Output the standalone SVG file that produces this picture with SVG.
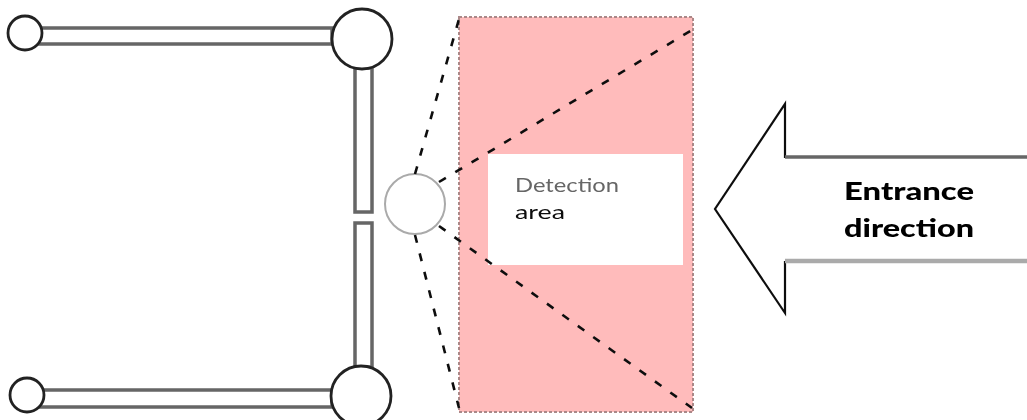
<svg xmlns="http://www.w3.org/2000/svg" width="1027" height="420" viewBox="0 0 1027 420">
<style>
.bar{fill:#fff;stroke:#666;stroke-width:3.5}
.post{fill:#fff;stroke:#222;stroke-width:2.8}
.dash{fill:none;stroke:#111;stroke-width:2.6;stroke-dasharray:8 11}
.lbl{font-family:"Lato","Liberation Sans",sans-serif}
.strong{font-size:24px;font-weight:900;fill:#000}
</style>
<defs><filter id="soft" x="-5%" y="-5%" width="110%" height="110%"><feGaussianBlur stdDeviation="0.7"/></filter></defs>
<rect width="1027" height="420" fill="#fff"/>
<g filter="url(#soft)">
<g id="detection-area">
<rect x="459" y="17" width="234" height="395" fill="#ffbbbb" stroke="#a88" stroke-width="2" stroke-dasharray="3 2"/>
<rect x="488" y="154" width="195" height="111" fill="#fff"/>
<text class="lbl" x="515" y="192" font-size="20" fill="#666" textLength="104" lengthAdjust="spacingAndGlyphs">Detection</text>
<text class="lbl" x="515" y="219" font-size="20" fill="#111" textLength="50" lengthAdjust="spacingAndGlyphs">area</text>
</g>
<g id="wall-top"><rect x="38" y="28" width="294" height="16" class="bar"/></g>
<g id="wall-bottom"><rect x="38" y="390" width="294" height="17" class="bar"/></g>
<g id="wall-right-upper"><rect x="355" y="68" width="17" height="144" class="bar"/></g>
<g id="wall-right-lower"><rect x="355" y="223" width="17" height="144" class="bar"/></g>
<g id="post-top-left"><circle cx="25" cy="33" r="17" class="post"/></g>
<g id="post-top-right"><circle cx="362" cy="39" r="30" class="post"/></g>
<g id="post-bottom-left"><circle cx="27" cy="395" r="17" class="post"/></g>
<g id="post-bottom-right"><circle cx="361" cy="396" r="30" class="post"/></g>
<g id="sensor"><circle cx="415" cy="204" r="30" fill="#fff" stroke="#aaa" stroke-width="2"/></g>
<g id="connectors">
<path class="dash" d="M415 174L459 19"/>
<path class="dash" d="M439 182L692 30"/>
<path class="dash" d="M439 226L692 408"/>
<path class="dash" d="M415 235L459 408"/>
</g>
<g id="entrance-arrow">
<path d="M1027 157H785V104L715 209L785 313V261H1027" fill="#fff" stroke="none"/>
<path d="M1027 157H785V104L715 209L785 313V261" fill="none" stroke="#111" stroke-width="2.2"/>
<path d="M1027 157H785" fill="none" stroke="#666" stroke-width="3.5"/>
<path d="M1027 261H785" fill="none" stroke="#aaa" stroke-width="4.5"/>
<text class="lbl strong" x="844" y="200" textLength="130" lengthAdjust="spacingAndGlyphs">Entrance</text>
<text class="lbl strong" x="844" y="237" textLength="130" lengthAdjust="spacingAndGlyphs">direction</text>
</g>
</g>
</svg>
